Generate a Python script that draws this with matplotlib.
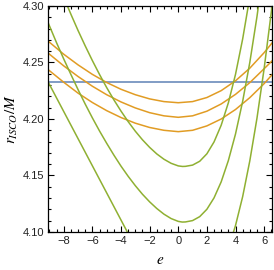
import numpy as np
import matplotlib

matplotlib.use("Agg")
import matplotlib.pyplot as plt
from matplotlib.ticker import MultipleLocator, FormatStrFormatter

# r_ISCO/M, one list per curve
R_FLAT = 4.2325  # blue horizontal reference

O_E = [-9.1, -8, -7, -6, -5, -4, -3, -2, -1, 0, 1, 2, 3, 4, 5, 6, 6.6]
O1_R = [4.2690, 4.2573, 4.2479, 4.2395, 4.2323, 4.2263, 4.2215, 4.2178, 4.2154,
        4.2144, 4.2154, 4.2190, 4.2251, 4.2338, 4.2450, 4.2587, 4.2680]
O2_R = [4.2584, 4.2470, 4.2376, 4.2290, 4.2215, 4.2151, 4.2098, 4.2056, 4.2028,
        4.2015, 4.2028, 4.2069, 4.2133, 4.2218, 4.2322, 4.2445, 4.2520]
O3_R = [4.2438, 4.2325, 4.2229, 4.2146, 4.2074, 4.2013, 4.1963, 4.1925, 4.1900,
        4.1888, 4.1900, 4.1939, 4.2000, 4.2084, 4.2189, 4.2313, 4.2398]

G1_E = [-8.0, -7.5, -7.0, -6.5, -6.0, -5.5, -5.0, -4.5, -4.0, -3.5, -3.0, -2.5,
        -2.0, -1.5, -1.0, -0.5, 0.0, 0.3, 0.5, 1.0, 1.5, 2.0, 2.5, 3.0, 3.5,
        4.0, 4.5, 5.0]
G1_R = [4.3077, 4.2927, 4.2783, 4.2647, 4.2517, 4.2394, 4.2278, 4.2170, 4.2070,
        4.1977, 4.1892, 4.1816, 4.1749, 4.1691, 4.1644, 4.1608, 4.1585, 4.1580,
        4.1581, 4.1592, 4.1626, 4.1692, 4.1797, 4.1945, 4.2143, 4.2395, 4.2708,
        4.3080]

G2_E = [-9.2, -8.5, -8.0, -7.5, -7.0, -6.5, -6.0, -5.5, -5.0, -4.5, -4.0, -3.5,
        -3.0, -2.5, -2.0, -1.5, -1.0, -0.5, 0.0, 0.28, 0.5, 1.0, 1.5, 2.0, 2.5,
        3.0, 3.5, 4.0, 4.5, 5.0, 5.5, 6.0]
G2_R = [4.2885, 4.2674, 4.2531, 4.2394, 4.2260, 4.2132, 4.2010, 4.1894, 4.1785,
        4.1681, 4.1583, 4.1493, 4.1410, 4.1334, 4.1267, 4.1208, 4.1158, 4.1119,
        4.1094, 4.1088, 4.1089, 4.1101, 4.1136, 4.1201, 4.1302, 4.1444, 4.1632,
        4.1867, 4.2156, 4.2501, 4.2906, 4.3370]

# lowest green curve: only its two arms are on screen
G3L_E = [-9.2, -8.0, -7.0, -6.0, -5.0, -4.0, -3.0]
G3L_R = [4.2354, 4.2066, 4.1826, 4.1586, 4.1346, 4.1106, 4.0866]
G3R_E = [3.6, 4.0, 4.5, 5.0, 5.5, 6.0, 6.5, 6.7]
G3R_R = [4.0895, 4.1057, 4.1313, 4.1630, 4.2007, 4.2446, 4.2945, 4.3162]

XLIM = (-9.1, 6.55)
YLIM = (4.10, 4.30)

BLUE = "#5e81b5"
ORANGE = "#e19c24"
GREEN = "#8fb032"

plt.rcParams["mathtext.fontset"] = "stix"
plt.rcParams["font.family"] = ["Liberation Sans", "DejaVu Sans"]

fig = plt.figure(figsize=(2.74, 2.70), dpi=100)
ax = fig.add_axes([48 / 274, 1 - 232 / 270, 224 / 274, 226 / 270])

lw = 1.1
ax.plot(XLIM, [R_FLAT, R_FLAT], color=BLUE, lw=lw)
for r in (O1_R, O2_R, O3_R):
    ax.plot(O_E, r, color=ORANGE, lw=lw)
for e, r in [(G1_E, G1_R), (G2_E, G2_R), (G3L_E, G3L_R), (G3R_E, G3R_R)]:
    ax.plot(e, r, color=GREEN, lw=lw)

ax.set_xlim(*XLIM)
ax.set_ylim(*YLIM)
ax.xaxis.set_major_locator(MultipleLocator(2))
ax.xaxis.set_minor_locator(MultipleLocator(0.5))
ax.yaxis.set_major_locator(MultipleLocator(0.05))
ax.yaxis.set_minor_locator(MultipleLocator(0.01))
ax.yaxis.set_major_formatter(FormatStrFormatter("%.2f"))
ax.tick_params(which="both", direction="in", top=True, right=True,
               width=0.8, labelsize=8, labelcolor="#222222", pad=3)
ax.tick_params(which="major", length=4)
ax.tick_params(which="minor", length=2)
for s in ax.spines.values():
    s.set_linewidth(0.9)

ax.set_xlabel(r"$e$", fontsize=11, labelpad=5)
ax.set_ylabel(r"$r_{ISCO}/M$", fontsize=11, labelpad=2)

fig.savefig("out.png", dpi=100)
